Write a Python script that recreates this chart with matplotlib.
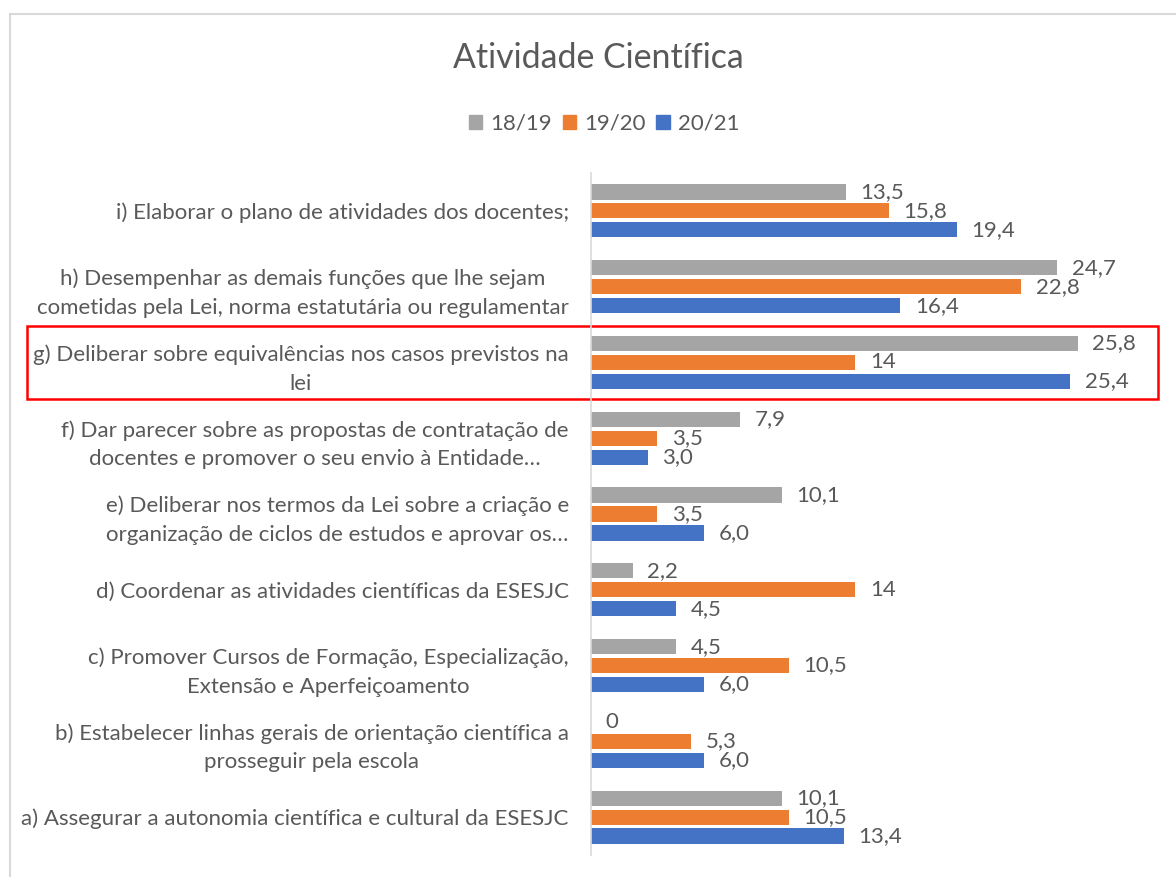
import matplotlib
matplotlib.use("Agg")
import matplotlib.pyplot as plt
import matplotlib.transforms as mtransforms
from matplotlib.patches import Rectangle
from matplotlib.lines import Line2D
import numpy as np

plt.rcParams['font.family'] = ['Lato', 'DejaVu Sans']

title = "Atividade Científica"
categories = [
    "a) Assegurar a autonomia científica e cultural da ESESJC",
    "b) Estabelecer linhas gerais de orientação científica a\nprosseguir pela escola",
    "c) Promover Cursos de Formação, Especialização,\nExtensão e Aperfeiçoamento",
    "d) Coordenar as atividades científicas da ESESJC",
    "e) Deliberar nos termos da Lei sobre a criação e\norganização de ciclos de estudos e aprovar os…",
    "f) Dar parecer sobre as propostas de contratação de\ndocentes e promover o seu envio à Entidade…",
    "g) Deliberar sobre equivalências nos casos previstos na\nlei",
    "h) Desempenhar as demais funções que lhe sejam\ncometidas pela Lei, norma estatutária ou regulamentar",
    "i) Elaborar o plano de atividades dos docentes;",
]
series_names = ["18/19", "19/20", "20/21"]
v1819 = [10.1, 0, 4.5, 2.2, 10.1, 7.9, 25.8, 24.7, 13.5]
v1920 = [10.5, 5.3, 10.5, 14, 3.5, 3.5, 14, 22.8, 15.8]
v2021 = [13.4, 6.0, 6.0, 4.5, 6.0, 3.0, 25.4, 16.4, 19.4]
lab1819 = ["10,1", "0", "4,5", "2,2", "10,1", "7,9", "25,8", "24,7", "13,5"]
lab1920 = ["10,5", "5,3", "10,5", "14", "3,5", "3,5", "14", "22,8", "15,8"]
lab2021 = ["13,4", "6,0", "6,0", "4,5", "6,0", "3,0", "25,4", "16,4", "19,4"]
highlight = "g) Deliberar sobre equivalências nos casos previstos na\nlei"

colors = ["#A5A5A5", "#ED7D31", "#4472C4"]
txt = "#595959"
FS = 16

W, H = 1176, 877
fig = plt.figure(figsize=(W / 100, H / 100), dpi=100)
ax = fig.add_axes([591 / W, (H - 855) / H, (1157 - 591) / W, (855 - 173) / H])

y = np.arange(len(categories))
bh = 0.2
step = 0.25
series = [v1819, v1920, v2021]
labels = [lab1819, lab1920, lab2021]
for i, (vals, labs, c, name) in enumerate(zip(series, labels, colors, series_names)):
    pos = y + step * (1 - i)
    bars = ax.barh(pos, vals, height=bh, color=c, label=name)
    for b, l in zip(bars, labs):
        ax.annotate(l, (b.get_width(), b.get_y() + b.get_height() / 2),
                    xytext=(10.5, 0), textcoords='offset points',
                    ha='left', va='center', fontsize=FS, color=txt)

ax.set_xlim(0, 30)
ax.set_ylim(-0.5, len(categories) - 0.5)
ax.set_yticks(y)
ax.set_yticklabels(categories, fontsize=FS, color=txt, linespacing=1.55)
for lab in ax.get_yticklabels():
    lab.set_multialignment('center')
ax.tick_params(axis='y', length=0, pad=16)
ax.set_xticks([])
for s in ['top', 'right', 'bottom']:
    ax.spines[s].set_visible(False)
ax.spines['left'].set_color('#D9D9D9')
ax.spines['left'].set_linewidth(1.2)

fig.text(598 / W, (H - 58) / H, title, ha='center', va='center', fontsize=24.4, color=txt)

handles = [Rectangle((0, 0), 1, 1, color=c) for c in colors]
fig.legend(handles, series_names, loc='center', bbox_to_anchor=(604 / W, (H - 124) / H),
           ncol=3, frameon=False, fontsize=FS, labelcolor=txt,
           handlelength=0.6, handleheight=0.6, handletextpad=0.35, columnspacing=0.5)

# highlight box around category g
gi = categories.index(highlight)
trans = mtransforms.blended_transform_factory(fig.transFigure, ax.transData)
ax.add_patch(Rectangle((27 / W, gi - 0.48), (1158 - 27) / W, 0.96, transform=trans,
                       fill=False, edgecolor='#FF0000', linewidth=1.8, clip_on=False))

# chart border
fig.add_artist(Line2D([10 / W, 1], [(H - 14) / H] * 2, color='#D9D9D9', lw=1.5))
fig.add_artist(Line2D([10 / W] * 2, [0, (H - 14) / H], color='#D9D9D9', lw=1.5))

fig.savefig("out.png", dpi=100, facecolor='white')
